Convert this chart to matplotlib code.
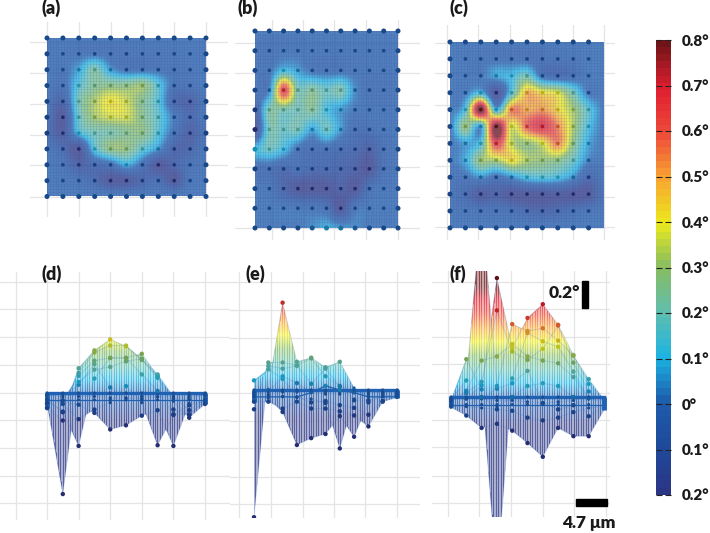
import numpy as np
import matplotlib
matplotlib.use("Agg")
import matplotlib.pyplot as plt
from matplotlib.colors import LinearSegmentedColormap, Normalize
from matplotlib.patches import Polygon, Rectangle

W, H = 710, 533

# tilt angle maps, rows top to bottom, degrees
a_values = [
    [0, 0, 0, 0, 0, 0, 0, 0, 0, 0, 0],
    [-.01, -.01, -.02, -.02, -.03, -.03, -.02, -.02, -.02, -.01, -.01],
    [0, -.02, .07, .22, .05, -.03, -.03, -.02, -.03, -.02, 0],
    [0, -.04, .14, .25, .27, .27, .3, .14, -.03, -.03, 0],
    [-.03, -.12, .2, .33, .41, .36, .26, .14, -.1, -.14, -.03],
    [-.05, -.71, .17, .32, .37, .37, .27, .16, 0, -.1, -.02],
    [-.08, -.17, .11, .2, .22, .26, .28, .14, -.03, -.15, -.05],
    [-.02, -.1, -.35, .14, .29, .29, .17, .05, -.12, -.12, -.02],
    [0, -.04, -.15, -.08, -.03, .09, -.03, -.34, -.12, -.05, -.02],
    [0, -.02, -.04, -.1, -.22, -.19, -.12, -.08, -.34, -.03, -.01],
    [0, 0, 0, 0, 0, 0, 0, 0, 0, 0, 0],
]
b_values = [
    [0, 0, 0, 0, 0, 0, 0, 0, 0, 0, 0],
    [-.01, -.03, -.01, -.01, -.01, -.01, -.01, -.01, -.01, -.01, -.01],
    [-.01, -.01, .11, .06, -.01, -.02, -.02, -.01, -.01, -.01, -.01],
    [-.02, .02, .65, .22, .25, .18, .22, .03, -.03, -.03, -.02],
    [-.12, .22, .22, .2, .25, .12, .05, 0, -.01, -.01, -.01],
    [-.9, .2, .18, .2, .07, .18, .05, -.05, -.05, -.02, -.01],
    [.1, .18, .11, -.02, -.06, -.05, -.08, -.1, -.15, -.05, -.02],
    [-.05, -.05, -.1, -.05, -.1, -.1, -.12, -.15, -.23, -.05, -.02],
    [-.01, -.02, -.12, -.36, -.31, -.28, -.15, -.3, -.05, -.01, -.01],
    [0, 0, 0, -.01, -.02, -.05, -.38, -.02, 0, 0, 0],
    [0, 0, 0, 0, .03, .08, .05, .03, 0, 0, 0],
]
c_values = [
    [0, 0, 0, 0, 0, 0, 0, 0, 0, 0, 0],
    [0, -.01, -.01, -.02, -.02, -.03, -.04, -.03, -.02, 0, 0],
    [0, 0, 0, .07, .11, .2, -.03, -.08, -.05, 0, 0],
    [0, 0, .1, -1.3, .15, .48, .42, .38, .2, 0, 0],
    [0, .14, 1.4, .1, .55, .5, .52, .43, .32, .15, 0],
    [0, .3, .08, .89, .38, .6, .7, .55, .33, .12, 0],
    [0, .06, .14, .66, .36, .3, .38, .55, .28, .07, 0],
    [0, .08, .3, .33, .42, .33, .3, .28, .18, .02, 0],
    [-.02, -.02, .04, -.03, .04, .12, .14, .12, .04, -.1, -.03],
    [-.03, -.09, -.18, -.15, -.2, -.29, -.39, -.18, -.24, -.24, -.05],
    [-.02, -.02, -.03, -.04, -.05, -.1, -.12, -.1, -.06, -.03, -.02],
    [0, 0, 0, 0, 0, 0, 0, 0, 0, 0, 0],
]

bar_ticks = [0.8, 0.7, 0.6, 0.5, 0.4, 0.3, 0.2, 0.1, 0.0, -0.1, -0.2]
bar_labels = ["0.8°", "0.7°", "0.6°", "0.5°", "0.4°", "0.3°", "0.2°", "0.1°", "0°", "0.1°", "0.2°"]

cmap = LinearSegmentedColormap.from_list("tilt", [
    (0.0, "#2b3585"), (0.1, "#1f4a9c"), (0.2, "#1e5cab"), (0.3, "#1cb4e4"),
    (0.4, "#62bfae"), (0.5, "#86bd63"), (0.6, "#ecea1c"), (0.7, "#f9a332"),
    (0.8, "#ee4a3a"), (0.9, "#e01f30"), (1.0, "#6e1519"),
], N=64)
norm = Normalize(-0.2, 0.8)

plt.rcParams["font.family"] = ["Lato", "DejaVu Sans"]
plt.rcParams["font.weight"] = "bold"

fig = plt.figure(figsize=(W / 100, H / 100), dpi=100)


def px_axes(x0, y0, x1, y1):
    ax = fig.add_axes([x0 / W, 1 - y1 / H, (x1 - x0) / W, (y1 - y0) / H])
    ax.set_axisbelow(True)
    for s in ax.spines.values():
        s.set_visible(False)
    ax.tick_params(length=0, labelbottom=False, labelleft=False)
    ax.grid(color="#e4e4e4", lw=0.9)
    ax.set_facecolor("none")
    return ax


def top_panel(values, box, cols, rows, vgrid, hgrid, dot_cols):
    z = np.array(values, dtype=float)
    nr, nc = z.shape
    ax = px_axes(*box)
    xpx = lambda p: (np.array(p, dtype=float) - cols[0]) / cols[1]
    ypx = lambda p: (np.array(p, dtype=float) - rows[0]) / rows[1]
    shown = np.clip(z, -0.2, 0.85)
    im = ax.imshow(shown, cmap=cmap.resampled(256), norm=norm, interpolation="catrom",
                   aspect="auto", alpha=0.78, zorder=2)
    im.set_clip_path(Rectangle((0, 0), nc - 1, nr - 1, transform=ax.transData))
    # fine mesh
    ax.vlines(np.arange(0, nc - 1, 0.18), 0, nr - 1, color="#3f4fa8", lw=0.5, alpha=0.22, zorder=3)
    ax.hlines(np.arange(0, nr - 1, 0.18), 0, nc - 1, color="#3f4fa8", lw=0.5, alpha=0.16, zorder=3)
    cc, rr = np.meshgrid(np.arange(dot_cols), np.arange(nr))
    colors = cmap(norm(z[:, :dot_cols].ravel()))
    colors[:, :3] *= 0.8
    edge = (rr == 0) | (rr == nr - 1) | (cc == 0) | (cc == nc - 1)
    ax.scatter(cc.ravel(), rr.ravel(), s=np.where(edge.ravel(), 13, 7), c=colors, linewidths=0, zorder=4)
    ax.set_xticks(xpx(vgrid))
    ax.set_yticks(ypx(hgrid))
    ax.set_xlim(xpx([box[0], box[2]]))
    ax.set_ylim(ypx([box[3], box[1]]))


def side_panel(values, box, cols, zero_px, vgrid, hgrid, dot_cols, tilt=0.005):
    z = np.array(values, dtype=float)
    nr, nc = z.shape
    ax = px_axes(*box)
    per_px = 0.2 / 27.5
    xpx = lambda p: (np.array(p, dtype=float) - cols[0]) / cols[1]
    ypx = lambda p: (zero_px - np.array(p, dtype=float)) * per_px
    proj = z - tilt * np.arange(nr)[:, None]
    xs = np.linspace(0, nc - 1, 1000)
    lines = np.array([np.interp(xs, np.arange(nc), row) for row in proj])
    hi, lo = lines.max(axis=0), lines.min(axis=0)

    grad = np.linspace(-3, 3, 1200)[:, None]
    im = ax.imshow(grad, extent=(0, nc - 1, -3, 3), origin="lower", aspect="auto",
                   cmap=cmap.resampled(256), norm=norm, alpha=0.78, zorder=2)
    outline = Polygon(np.r_[np.c_[xs, hi], np.c_[xs[::-1], lo[::-1]]], closed=True,
                      facecolor="none", edgecolor="none", transform=ax.transData)
    ax.add_patch(outline)
    im.set_clip_path(outline)

    # dense mesh stripes
    stripes = np.arange(0, nc - 1, 1.7 / cols[1])
    ax.vlines(stripes, np.interp(stripes, xs, lo), np.interp(stripes, xs, hi),
              color="white", lw=0.6, alpha=0.6, zorder=3)

    for r in range(nr):
        ax.plot(np.arange(nc), proj[r], color="#3b78c4", lw=0.7, alpha=0.22, zorder=3)
    # near edge and the two ends of the scan read as thick blue bands
    ax.plot(np.arange(nc), proj[0], color="#1f62b4", lw=2.4, zorder=4)
    ax.plot(np.arange(nc), proj[-1], color="#1f62b4", lw=0.9, zorder=4)
    for c in (0, nc - 1):
        near = np.abs(z[:, c]) < 0.1
        ax.vlines(c, proj[near, c].min(), proj[near, c].max(), color="#1f62b4", lw=3.5, zorder=4)
    cc, rr = np.meshgrid(np.arange(dot_cols), np.arange(nr))
    colors = cmap(norm(np.clip(z[:, :dot_cols].ravel(), -0.2, 0.8)))
    colors[:, :3] *= 0.85
    flat = np.abs(z[:, :dot_cols].ravel()) < 0.04
    ax.scatter(cc.ravel(), proj[:, :dot_cols].ravel(), s=np.where(flat, 5, 10), c=colors, linewidths=0, zorder=5)
    ax.set_xticks(xpx(vgrid))
    ax.set_yticks(ypx(hgrid))
    ax.set_xlim(xpx([box[0], box[2]]))
    ax.set_ylim(ypx([box[3], box[1]]))


top_panel(a_values, (30, 22, 228, 217), (47, 15.9), (38, 15.85),
          [47, 79, 111, 143, 174, 206], [42, 73, 104, 135, 165, 197], 11)
top_panel(b_values, (235, 20, 420, 240), (255, 14.3), (31, 19.7),
          [272, 303, 334, 366, 398], [43, 73, 105, 136, 167, 197, 228], 11)
top_panel(c_values, (435, 25, 615, 240), (450, 15.4), (42, 16.9),
          [447, 478, 510, 542, 573, 604], [43, 73, 105, 136, 166, 197, 227], 10)

side_panel(a_values, (0, 272, 230, 520), (47, 15.8), 393,
           [16, 47, 79, 110, 142, 173, 205], [282, 309, 337, 365, 393, 420, 448, 476, 503], 11)
side_panel(b_values, (230, 272, 420, 518), (254, 14.3), 390,
           [239, 271, 303, 334, 365, 397], [282, 310, 338, 365, 393, 421, 448, 477, 504], 11)
side_panel(c_values, (432, 271, 610, 517), (451, 15.3), 397,
           [448, 479, 511, 543, 574, 606], [282, 309, 337, 364, 393, 420, 447, 476, 503], 10)

# colour bar
cax = fig.add_axes([656 / W, 1 - 495 / H, 15 / W, 455 / H])
cax.imshow(np.linspace(-0.2, 0.8, 64)[:, None], extent=(0, 1, -0.2, 0.8), origin="lower",
           aspect="auto", cmap=cmap, norm=norm, interpolation="nearest")
cax.set_xticks([])
cax.set_yticks(bar_ticks, bar_labels, fontsize=11, fontweight="heavy", color="#1a1a1a")
cax.set_yticks([-0.1, -0.2], minor=True)
cax.tick_params(axis="y", which="major", left=True, right=True, labelleft=False, labelright=True,
                direction="in", length=4, width=0.8, pad=8, color="#222222")
cax.tick_params(axis="y", which="minor", left=False, right=True, direction="out", length=4, width=1.4, color="#222222")
for s in cax.spines.values():
    s.set_visible(False)

# labels and scale bars, in figure pixels
over = fig.add_axes([0, 0, 1, 1])
over.set_xlim(0, W)
over.set_ylim(H, 0)
over.axis("off")
for label, x, y in [("(a)", 42, 8), ("(b)", 238, 8), ("(c)", 450, 8),
                    ("(d)", 42, 274), ("(e)", 245, 274), ("(f)", 450, 274)]:
    over.text(x, y, label, fontsize=13, fontweight="heavy", ha="left", va="center", color="#1a1a1a")
over.add_patch(Rectangle((582, 281), 6, 27, color="black"))
over.add_patch(Rectangle((576, 499), 31, 7, color="black"))
over.text(549, 293, "0.2°", fontsize=12.5, fontweight="heavy", va="center", color="#1a1a1a")
over.text(562, 523, "4.7 μm", fontsize=12.5, fontweight="heavy", va="center", color="#1a1a1a")

fig.savefig("out.png", dpi=100)
